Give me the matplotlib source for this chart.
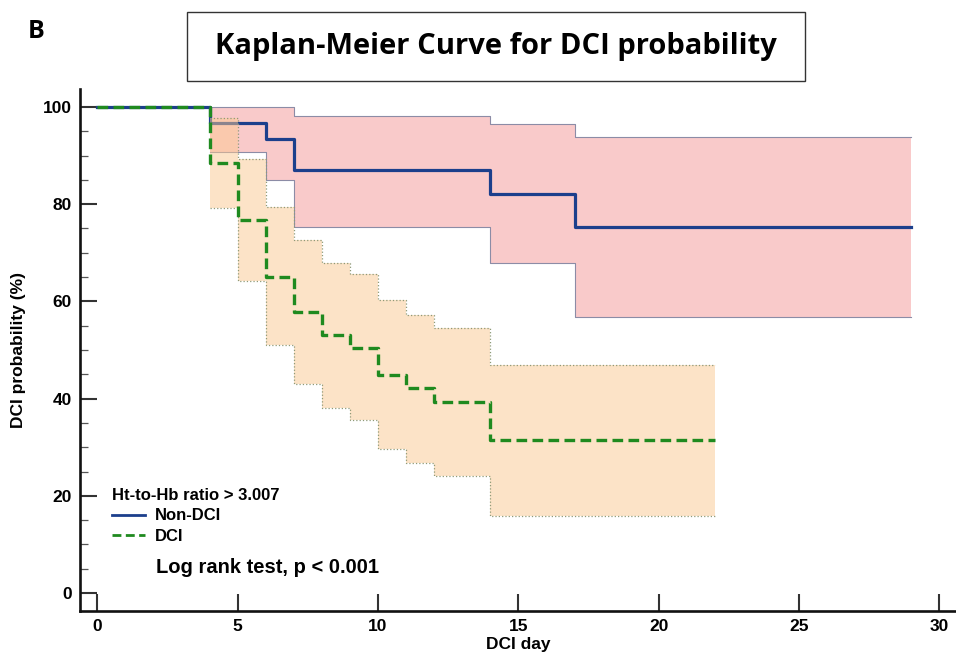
import matplotlib
matplotlib.use("Agg")
import matplotlib.pyplot as plt
from matplotlib.ticker import MultipleLocator
from matplotlib.patches import Rectangle
from matplotlib.lines import Line2D

# Kaplan-Meier curve, Ht-to-Hb ratio > 3.007 group

# non-DCI survival curve
non_dci_days = [0, 4, 6, 7, 14, 17, 29]
non_dci_prob = [100, 96.7, 93.4, 87.0, 82.1, 75.3, 75.3]
# non-DCI 95% CI
non_dci_ci_days = [4, 6, 7, 14, 17, 29]
non_dci_upper = [100, 100, 98.2, 96.4, 93.8, 93.8]
non_dci_lower = [90.7, 85.0, 75.3, 67.8, 56.8, 56.8]

# DCI survival curve
dci_days = [0, 4, 5, 6, 7, 8, 9, 10, 11, 12, 14, 22]
dci_prob = [100, 88.4, 76.7, 65.1, 57.9, 53.0, 50.5, 44.9, 42.1, 39.3, 31.5, 31.5]
# DCI 95% CI
dci_ci_days = [4, 5, 6, 7, 8, 9, 10, 11, 12, 14, 22]
dci_upper = [97.7, 89.3, 79.4, 72.6, 68.0, 65.6, 60.3, 57.3, 54.5, 46.9, 46.9]
dci_lower = [79.2, 64.2, 51.0, 43.1, 38.1, 35.5, 29.6, 26.8, 24.1, 15.8, 15.8]

x_ticks = [0, 5, 10, 15, 20, 25, 30]
y_ticks = [0, 20, 40, 60, 80, 100]

plt.rcParams["font.family"] = ["Liberation Sans", "DejaVu Sans"]
plt.rcParams["font.weight"] = "bold"

W, H = 956, 655
fig = plt.figure(figsize=(W / 100, H / 100), dpi=100)
ax = fig.add_axes([80 / W, 1 - 611 / H, 876 / W, 522 / H])

blue = "#1c3f8c"
green = "#1f8a1f"

# non-DCI band + curve
ax.fill_between(non_dci_ci_days, non_dci_lower, non_dci_upper, step="post",
                color="#f9caca", lw=0, zorder=1)
ax.step(non_dci_ci_days, non_dci_upper, where="post", color="#8c8ca6", lw=0.8, zorder=2)
ax.step(non_dci_ci_days, non_dci_lower, where="post", color="#8c8ca6", lw=0.8, zorder=2)
ax.step(non_dci_days, non_dci_prob, where="post", color=blue, lw=2.3, zorder=3)

# DCI band drawn semi-transparent on top
ax.fill_between(dci_ci_days, dci_lower, dci_upper, step="post",
                color="#fbc991", alpha=0.5, lw=0, zorder=4)
ax.step(dci_ci_days, dci_upper, where="post", color="#8f9a78", lw=0.9, ls=":", zorder=5)
ax.step(dci_ci_days, dci_lower, where="post", color="#8f9a78", lw=0.9, ls=":", zorder=5)
dci_line, = ax.step(dci_days, dci_prob, where="post", color=green, lw=2.4, zorder=6)
dci_line.set_dashes((3.2, 1.6))

ax.set_xlim(-0.616, 30.59)
ax.set_ylim(-3.70, 103.7)
ax.set_xticks(x_ticks)
ax.set_yticks(y_ticks)
ax.yaxis.set_minor_locator(MultipleLocator(5))

for s in ["top", "right"]:
    ax.spines[s].set_visible(False)
for s in ["left", "bottom"]:
    ax.spines[s].set_linewidth(1.9)
    ax.spines[s].set_color("#111111")

ax.tick_params(axis="both", which="major", direction="in", length=12, width=1.5,
               color="#333333", labelsize=12.5, pad=6)
ax.tick_params(axis="y", which="minor", direction="in", length=6, width=0.9, color="#555555")

ax.set_xlabel("DCI day", fontsize=12.5, fontweight="bold")
ax.set_ylabel("DCI probability (%)", fontsize=12.5, fontweight="bold")
ax.xaxis.set_label_coords(0.5, -0.049)
ax.yaxis.set_label_coords(-0.062, 0.5)

handles = [Line2D([], [], color=blue, lw=2.0),
           Line2D([], [], color=green, lw=2.0, dashes=(3.2, 1.6))]
leg = ax.legend(handles, ["Non-DCI", "DCI"], title="Ht-to-Hb ratio > 3.007",
                loc="upper left", bbox_to_anchor=(0.0365, 0.2355), frameon=False,
                fontsize=12, title_fontsize=12, alignment="left", borderpad=0,
                borderaxespad=0, handlelength=2.0, handletextpad=0.6,
                labelspacing=0.32)
leg.get_title().set_fontweight("bold")

ax.text(2.08, 5.35, "Log rank test, p < 0.001", fontsize=14.5, fontweight="bold",
        va="center", ha="left")

# title box
fig.patches.append(Rectangle((187 / W, 1 - 81 / H), 618 / W, 69 / H,
                             transform=fig.transFigure, fill=False,
                             edgecolor="#333333", lw=1.0))
fig.text(496 / W, 1 - 54 / H, "Kaplan-Meier Curve for DCI probability",
         ha="center", va="baseline", fontsize=21, fontweight="bold", family="Open Sans")
fig.text(28 / W, 1 - 38 / H, "B", ha="left", va="baseline", fontsize=18,
         fontweight="bold", family="Open Sans")

fig.savefig("out.png", dpi=100)
